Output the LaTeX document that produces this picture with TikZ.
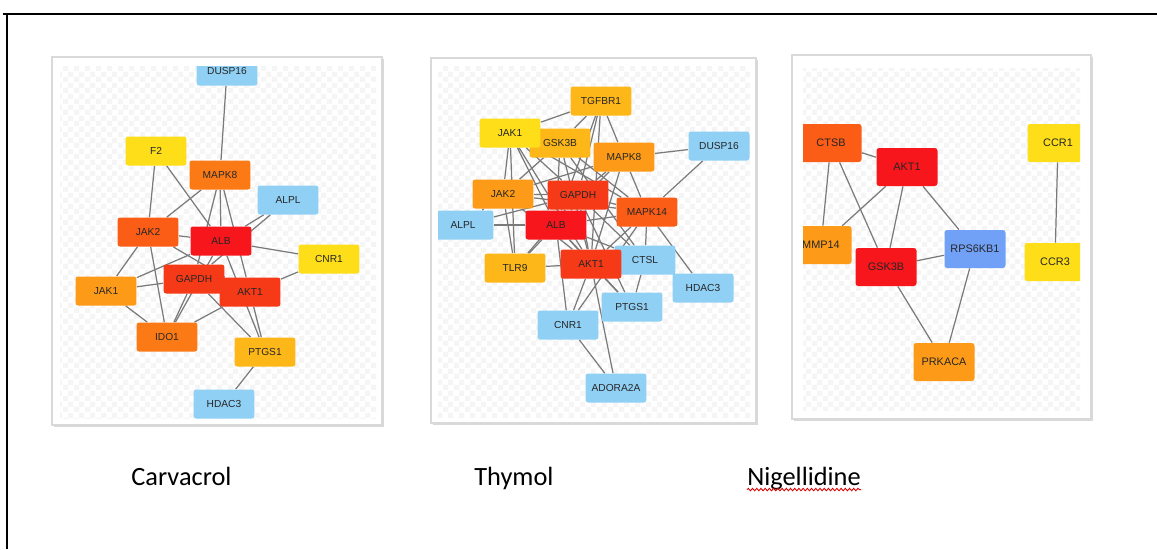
\documentclass[tikz,border=0pt]{standalone}
\usepackage{fontspec}
\setmainfont{Liberation Sans}
\newfontfamily\captionfont{Carlito}
\usepackage{xcolor}
\usetikzlibrary{backgrounds,patterns,shadows,decorations.pathmorphing}
\definecolor{hubred}{RGB}{246,22,28}
\definecolor{redorange}{RGB}{246,58,24}
\definecolor{deeporange}{RGB}{251,92,22}
\definecolor{midorange}{RGB}{252,122,22}
\definecolor{lightorange}{RGB}{253,155,24}
\definecolor{amber}{RGB}{253,183,24}
\definecolor{netyellow}{RGB}{253,222,24}
\definecolor{paleblue}{RGB}{144,208,245}
\definecolor{midblue}{RGB}{112,161,246}
\pgfdeclarepatternformonly{softcheck}{\pgfqpoint{0pt}{0pt}}{\pgfqpoint{6pt}{6pt}}{\pgfqpoint{6pt}{6pt}}{%
  \pgfpathrectangle{\pgfqpoint{0pt}{0pt}}{\pgfqpoint{3pt}{3pt}}%
  \pgfpathrectangle{\pgfqpoint{3pt}{3pt}}{\pgfqpoint{3pt}{3pt}}%
  \pgfusepath{fill}}

\begin{document}
\begin{tikzpicture}[
    x=0.02cm, y=-0.02cm,
    gene/.style={rectangle, rounded corners=1.5pt, minimum width=1.22cm, minimum height=0.58cm, inner sep=0pt, font=\fontsize{5.8}{6}\selectfont, text=black!85},
    biggene/.style={gene, minimum height=0.76cm, font=\fontsize{6.2}{7}\selectfont},
    edge/.style={draw=black!52, line width=0.7pt},
    panel/.style={fill=white, draw=black!15, line width=0.8pt, drop shadow={opacity=0.3, shadow xshift=1.3pt, shadow yshift=-1.3pt}},
    checker/.style={pattern=softcheck, pattern color=black!4},
    caption/.style={inner sep=0pt, anchor=base west, font=\captionfont\fontsize{15}{18}\selectfont},
    spell/.style={draw=red!85!black, line width=0.5pt, decorate, decoration={snake, amplitude=0.7pt, segment length=2.4pt}}
]
\useasboundingbox (0,0) rectangle (1157,549);
\draw[line width=1.1pt] (1157,14) -- (3,14) (7,14) -- (7,549);

% Panels
\begin{scope}[on background layer]
\draw[panel] (52,57) rectangle (382,425);
\fill[checker] (60,66) rectangle (376,418);
\draw[panel] (431,58) rectangle (756,423);
\fill[checker] (438,66) rectangle (750,417);
\draw[panel] (792,55) rectangle (1091,419);
\fill[checker] (803,68) rectangle (1080,410);
\end{scope}

% Carvacrol network
\begin{scope}
\clip (60,66) rectangle (376,418);
\node[gene, fill=paleblue] (c_dusp16) at (227,71) {DUSP16};
\node[gene, fill=netyellow] (c_f2) at (156,151) {F2};
\node[gene, fill=midorange] (c_mapk8) at (220,175) {MAPK8};
\node[gene, fill=paleblue] (c_alpl) at (288,200) {ALPL};
\node[gene, fill=deeporange] (c_jak2) at (148,232) {JAK2};
\node[gene, fill=hubred] (c_alb) at (221,241) {ALB};
\node[gene, fill=netyellow] (c_cnr1) at (329,259) {CNR1};
\node[gene, fill=redorange] (c_gapdh) at (194,279) {GAPDH};
\node[gene, fill=lightorange] (c_jak1) at (106,291) {JAK1};
\node[gene, fill=redorange] (c_akt1) at (250,292) {AKT1};
\node[gene, fill=midorange] (c_ido1) at (167,337) {IDO1};
\node[gene, fill=amber] (c_ptgs1) at (265,352) {PTGS1};
\node[gene, fill=paleblue] (c_hdac3) at (224,404) {HDAC3};
\end{scope}

% Thymol network
\begin{scope}
\clip (438,66) rectangle (750,417);
\node[gene, fill=amber] (t_tgfbr1) at (601,101) {TGFBR1};
\node[gene, fill=amber] (t_gsk3b) at (560,143) {GSK3B};
\node[gene, fill=netyellow] (t_jak1) at (510,133) {JAK1};
\node[gene, fill=lightorange] (t_mapk8) at (624,157) {MAPK8};
\node[gene, fill=paleblue] (t_dusp16) at (719,146) {DUSP16};
\node[gene, fill=lightorange] (t_jak2) at (503,194) {JAK2};
\node[gene, fill=redorange] (t_gapdh) at (578,195) {GAPDH};
\node[gene, fill=deeporange] (t_mapk14) at (647,212) {MAPK14};
\node[gene, fill=paleblue] (t_alpl) at (463,225) {ALPL};
\node[gene, fill=hubred] (t_alb) at (556,225) {ALB};
\node[gene, fill=amber] (t_tlr9) at (515,268) {TLR9};
\node[gene, fill=paleblue] (t_ctsl) at (645,260) {CTSL};
\node[gene, fill=redorange] (t_akt1) at (591,264) {AKT1};
\node[gene, fill=paleblue] (t_hdac3) at (703,288) {HDAC3};
\node[gene, fill=paleblue] (t_ptgs1) at (632,307) {PTGS1};
\node[gene, fill=paleblue] (t_cnr1) at (568,325) {CNR1};
\node[gene, fill=paleblue] (t_adora2a) at (616,388) {ADORA2A};
\end{scope}

% Nigellidine network
\begin{scope}
\clip (803,68) rectangle (1080,410);
\node[biggene, fill=deeporange] (n_ctsb) at (831,143) {CTSB};
\node[biggene, fill=hubred] (n_akt1) at (907,167) {AKT1};
\node[biggene, fill=lightorange] (n_mmp14) at (821,245) {MMP14};
\node[biggene, fill=hubred] (n_gsk3b) at (886,267) {GSK3B};
\node[biggene, fill=midblue] (n_rps6kb1) at (975,249) {RPS6KB1};
\node[biggene, fill=netyellow] (n_ccr1) at (1058,143) {CCR1};
\node[biggene, fill=netyellow] (n_ccr3) at (1055,262) {CCR3};
\node[biggene, fill=lightorange] (n_prkaca) at (944,362) {PRKACA};
\end{scope}

% Interactions
\begin{scope}[on background layer]
\draw[edge] (c_dusp16) -- (c_mapk8);
\draw[edge] (c_f2) -- (c_jak2) (c_f2) -- (c_alb);
\draw[edge] (c_mapk8) -- (c_jak2) (c_mapk8) -- (c_alb) (c_mapk8) -- (c_gapdh) (c_mapk8) -- (c_akt1);
\draw[edge] (c_alpl) -- (c_alb) (c_alpl) -- (c_gapdh);
\draw[edge] (c_jak2) -- (c_alb) (c_jak2) -- (c_jak1) (c_jak2) -- (c_ido1) (c_jak2) -- (c_akt1);
\draw[edge] (c_alb) -- (c_cnr1) (c_alb) -- (c_ptgs1) (c_alb) -- (c_ido1) (c_alb) -- (c_jak1);
\draw[edge] (c_cnr1) -- (c_akt1);
\draw[edge] (c_jak1) -- (c_gapdh) (c_jak1) -- (c_ido1);
\draw[edge] (c_gapdh) -- (c_ido1) (c_gapdh) -- (c_ptgs1);
\draw[edge] (c_akt1) -- (c_ido1) (c_akt1) -- (c_ptgs1);
\draw[edge] (c_ptgs1) -- (c_hdac3);

\draw[edge] (t_tgfbr1) -- (t_jak1) (t_tgfbr1) -- (t_gsk3b) (t_tgfbr1) -- (t_gapdh) (t_tgfbr1) -- (t_alb) (t_tgfbr1) -- (t_mapk8) (t_tgfbr1) -- (t_akt1);
\draw[edge] (t_jak1) -- (t_jak2) (t_jak1) -- (t_alb) (t_jak1) -- (t_tlr9) (t_jak1) -- (t_akt1) (t_jak1) -- (t_mapk14) (t_jak1) -- (t_gapdh);
\draw[edge] (t_gsk3b) -- (t_jak2) (t_gsk3b) -- (t_alb) (t_gsk3b) -- (t_akt1) (t_gsk3b) -- (t_mapk14) (t_gsk3b) -- (t_ctsl);
\draw[edge] (t_mapk8) -- (t_dusp16) (t_mapk8) -- (t_jak2) (t_mapk8) -- (t_gapdh) (t_mapk8) -- (t_alb) (t_mapk8) -- (t_mapk14) (t_mapk8) -- (t_akt1);
\draw[edge] (t_dusp16) -- (t_mapk14);
\draw[edge] (t_jak2) -- (t_gapdh) (t_jak2) -- (t_alpl) (t_jak2) -- (t_tlr9) (t_jak2) -- (t_akt1) (t_jak2) -- (t_mapk14);
\draw[edge] (t_gapdh) -- (t_mapk14) (t_gapdh) -- (t_akt1) (t_gapdh) -- (t_alpl) (t_gapdh) -- (t_ctsl) (t_gapdh) -- (t_ptgs1) (t_gapdh) -- (t_tlr9);
\draw[edge] (t_alpl) -- (t_alb);
\draw[edge] (t_alb) -- (t_akt1) (t_alb) -- (t_tlr9) (t_alb) -- (t_ctsl) (t_alb) -- (t_ptgs1) (t_alb) -- (t_cnr1) (t_alb) -- (t_mapk14);
\draw[edge] (t_mapk14) -- (t_akt1) (t_mapk14) -- (t_ctsl) (t_mapk14) -- (t_hdac3) (t_mapk14) -- (t_cnr1);
\draw[edge] (t_tlr9) -- (t_akt1);
\draw[edge] (t_akt1) -- (t_cnr1) (t_akt1) -- (t_ptgs1) (t_akt1) -- (t_adora2a) (t_akt1) -- (t_ctsl);
\draw[edge] (t_ctsl) -- (t_ptgs1) (t_ctsl) -- (t_hdac3);
\draw[edge] (t_cnr1) -- (t_adora2a);

\draw[edge] (n_ctsb) -- (n_akt1) (n_ctsb) -- (n_mmp14) (n_ctsb) -- (n_gsk3b);
\draw[edge] (n_akt1) -- (n_mmp14) (n_akt1) -- (n_gsk3b) (n_akt1) -- (n_rps6kb1);
\draw[edge] (n_gsk3b) -- (n_rps6kb1) (n_gsk3b) -- (n_prkaca);
\draw[edge] (n_rps6kb1) -- (n_prkaca);
\draw[edge] (n_ccr1) -- (n_ccr3);
\end{scope}

% Compound names
\node[caption] (lab_carv) at (131,485) {Carvacrol};
\node[caption] (lab_thy) at (474,485) {Thymol};
\node[caption] (lab_nig) at (747,485) {Nigellidine};
\draw[spell] ([yshift=-2.6pt]lab_nig.base west) -- ([yshift=-2.6pt]lab_nig.base east);
\end{tikzpicture}
\end{document}
